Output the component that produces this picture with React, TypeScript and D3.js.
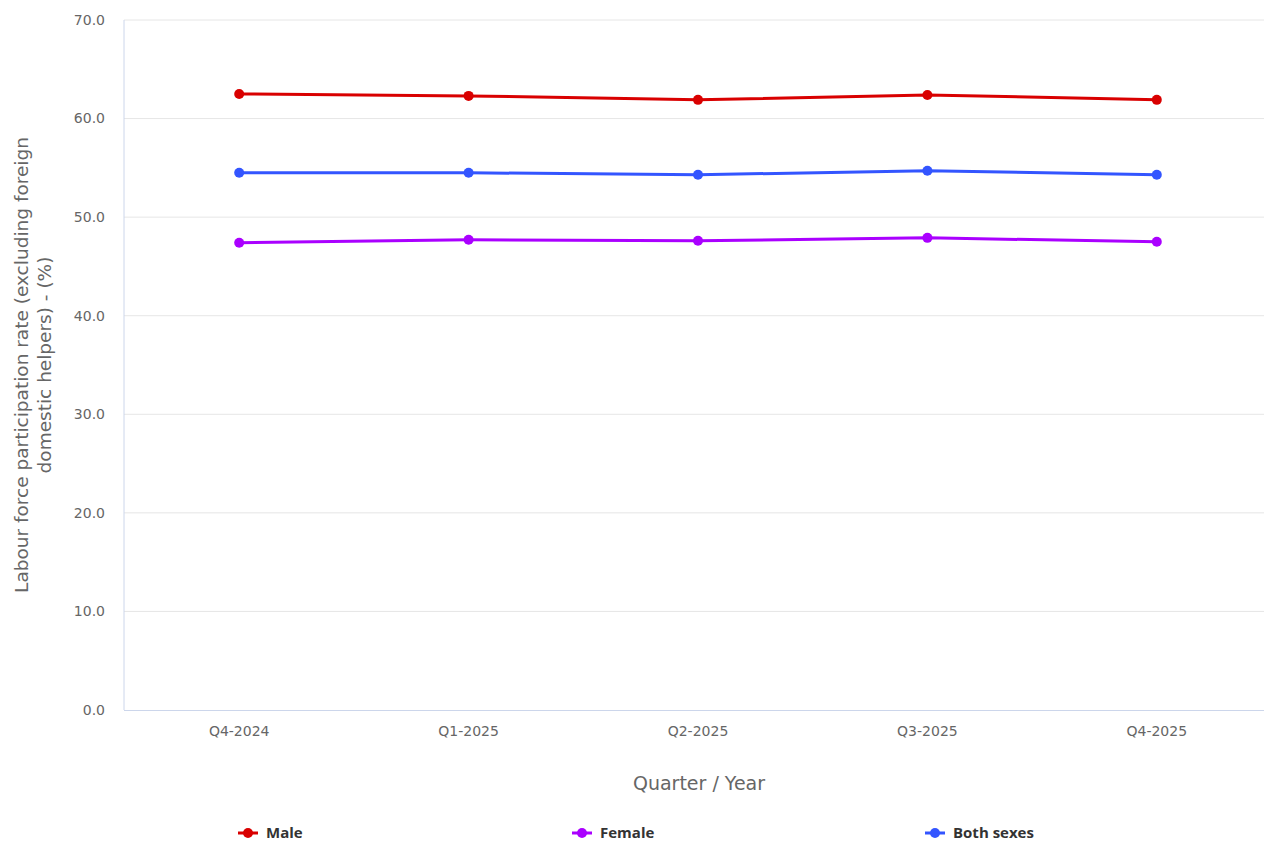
import React from "react";
import * as d3 from "d3";

const categories = ["Q4-2024", "Q1-2025", "Q2-2025", "Q3-2025", "Q4-2025"];
const maleValues = [62.5, 62.3, 61.9, 62.4, 61.9];
const femaleValues = [47.4, 47.7, 47.6, 47.9, 47.5];
const bothValues = [54.5, 54.5, 54.3, 54.7, 54.3];
const yTicks = [0, 10, 20, 30, 40, 50, 60, 70];
const seriesNames = ["Male", "Female", "Both sexes"];
const seriesColors = ["#d90000", "#aa00ff", "#3355ff"];

const W = 1264;
const H = 843;
const left = 124;
const top = 20;
const bottom = 710;
const AXIS_FONT = "'DejaVu Sans', 'Open Sans', sans-serif";
const LEGEND_FONT = "'Open Sans', 'DejaVu Sans', sans-serif";

export default function App() {
  const x = d3.scalePoint<string>().domain(categories).range([124.5, 1271.5]).padding(0.5);
  const y = d3.scaleLinear().domain([0, 70]).range([bottom, top]);
  const line = d3
    .line<number>()
    .x((_, i) => x(categories[i]) as number)
    .y((d) => y(d));
  const series = [maleValues, femaleValues, bothValues];
  const legendX = [238, 572, 925];

  return (
    <svg
      width={W}
      height={H}
      style={{ position: "absolute", left: 0, top: 0, fontFamily: AXIS_FONT }}
    >
      <rect width={W} height={H} fill="#ffffff" />
      {yTicks.map((t) => (
        <g key={t}>
          {t > 0 && (
            <line x1={left} x2={W} y1={y(t)} y2={y(t)} stroke="#e6e6e6" strokeWidth={1} />
          )}
          <text
            x={105}
            y={y(t)}
            dy="0.35em"
            textAnchor="end"
            fontSize={14}
            fill="#666666"
          >
            {t.toFixed(1)}
          </text>
        </g>
      ))}
      <line x1={left} x2={left} y1={top} y2={bottom} stroke="#ccd6eb" strokeWidth={1} />
      <line x1={left} x2={W} y1={bottom + 0.5} y2={bottom + 0.5} stroke="#ccd6eb" strokeWidth={1} />
      {categories.map((c) => (
        <text
          key={c}
          x={x(c)}
          y={731}
          dy="0.35em"
          textAnchor="middle"
          fontSize={14}
          fill="#666666"
        >
          {c}
        </text>
      ))}
      <text
        transform={`translate(22,${(top + bottom) / 2}) rotate(-90)`}
        textAnchor="middle"
        fontSize={18.5}
        fill="#666666"
      >
        <tspan x={0} dy="0.35em">Labour force participation rate (excluding foreign</tspan>
        <tspan x={0} dy="23">domestic helpers) - (%)</tspan>
      </text>
      <text x={699} y={783} dy="0.35em" textAnchor="middle" fontSize={19} fill="#666666">
        Quarter / Year
      </text>
      {series.map((vals, si) => (
        <g key={seriesNames[si]}>
          <path d={line(vals) || ""} fill="none" stroke={seriesColors[si]} strokeWidth={3} />
          {vals.map((v, i) => (
            <circle key={i} cx={x(categories[i])} cy={y(v)} r={5} fill={seriesColors[si]} />
          ))}
        </g>
      ))}
      {seriesNames.map((n, i) => (
        <g key={n}>
          <line
            x1={legendX[i]}
            x2={legendX[i] + 20}
            y1={833}
            y2={833}
            stroke={seriesColors[i]}
            strokeWidth={3}
          />
          <circle cx={legendX[i] + 10} cy={833} r={5} fill={seriesColors[i]} />
          <text
            x={legendX[i] + 28}
            y={833}
            dy="0.35em"
            fontSize={15}
            fontWeight="bold"
            fill="#333333"
            fontFamily={LEGEND_FONT}
          >
            {n}
          </text>
        </g>
      ))}
    </svg>
  );
}
